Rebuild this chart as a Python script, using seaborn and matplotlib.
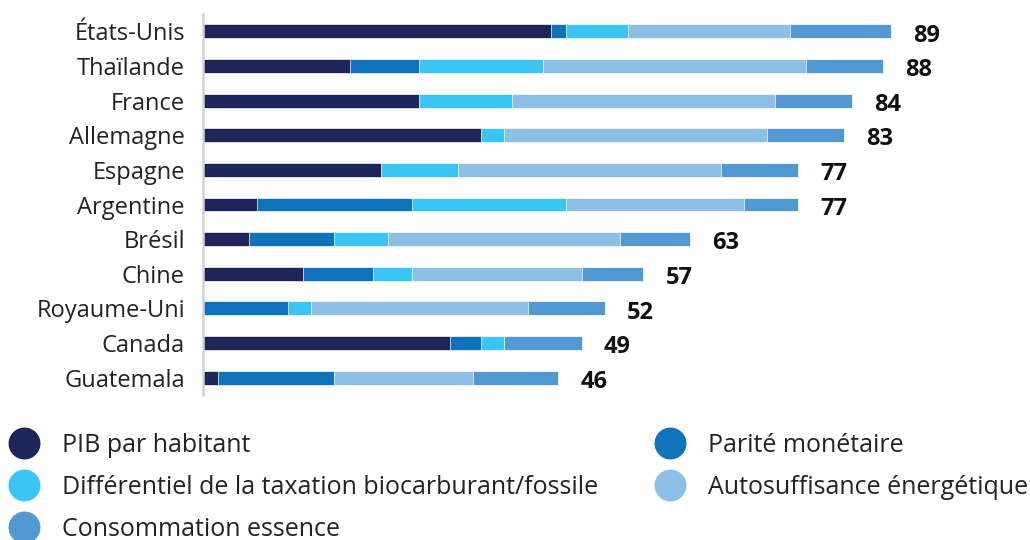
import matplotlib
matplotlib.use("Agg")
import matplotlib.pyplot as plt
from matplotlib.lines import Line2D
import numpy as np
import pandas as pd
import seaborn as sns

# Countries, top to bottom
pays = ["États-Unis", "Thaïlande", "France", "Allemagne", "Espagne", "Argentine",
        "Brésil", "Chine", "Royaume-Uni", "Canada", "Guatemala"]

# Score components per country
pib = [45, 19, 28, 36, 23, 7, 6, 13, 0, 32, 2]
parite = [2, 9, 0, 0, 0, 20, 11, 9, 11, 4, 15]
taxation = [8, 16, 12, 3, 10, 20, 7, 5, 3, 3, 0]
autosuffisance = [21, 34, 34, 34, 34, 23, 30, 22, 28, 0, 18]
consommation = [13, 10, 10, 10, 10, 7, 9, 8, 10, 10, 11]

series = ["PIB par habitant", "Parité monétaire",
          "Différentiel de la taxation biocarburant/fossile",
          "Autosuffisance énergétique", "Consommation essence"]
couleurs = ["#1e2559", "#0e73bb", "#3ac6f4", "#8ebfe6", "#5298d2"]

df = pd.DataFrame({
    "pays": pays,
    series[0]: pib,
    series[1]: parite,
    series[2]: taxation,
    series[3]: autosuffisance,
    series[4]: consommation,
})
cumul = df[series].cumsum(axis=1)
df["total"] = cumul[series[-1]]

sns.set_theme(style="white")
plt.rcParams["font.family"] = ["Open Sans", "DejaVu Sans"]

fig = plt.figure(figsize=(10.3, 5.4), dpi=100)
ax = fig.add_axes([0.1971, 0.2685, 0.7502, 0.7055])

# Stack by drawing cumulative totals from the outermost layer inwards
for nom, col in reversed(list(zip(series, couleurs))):
    sns.barplot(x=cumul[nom], y=df["pays"], orient="h", color=col,
                width=0.4, edgecolor="white", linewidth=0.5, ax=ax,
                saturation=1)

for i, tot in enumerate(df["total"]):
    ax.annotate(f"{tot}", xy=(tot, i), xytext=(16, -3),
                textcoords="offset points", ha="left", va="center",
                fontsize=17, fontweight="bold", color="#111111")

ax.set_xlim(0, 100)
ax.set_ylim(10.5, -0.5)
ax.set_xlabel("")
ax.set_ylabel("")
ax.set_xticks([])
sns.despine(ax=ax, top=True, right=True, bottom=True, left=False)
ax.spines["left"].set_color("#d3d3d3")
ax.spines["left"].set_linewidth(1.8)
ax.tick_params(axis="y", length=0, pad=13, labelsize=17, labelcolor="#222222")

handles = [Line2D([], [], marker="o", linestyle="", markersize=23,
                  markerfacecolor=c, markeredgewidth=0) for c in couleurs]
order = [0, 2, 4, 1, 3]
fig.legend([handles[k] for k in order], [series[k] for k in order],
           loc="upper left", bbox_to_anchor=(0.008, 0.199), ncol=2,
           frameon=False, fontsize=18, labelcolor="#222222",
           handlelength=1.28, handletextpad=0.88, labelspacing=0.69,
           columnspacing=2.24, borderaxespad=0, borderpad=0)

fig.savefig("out.png", dpi=100)
